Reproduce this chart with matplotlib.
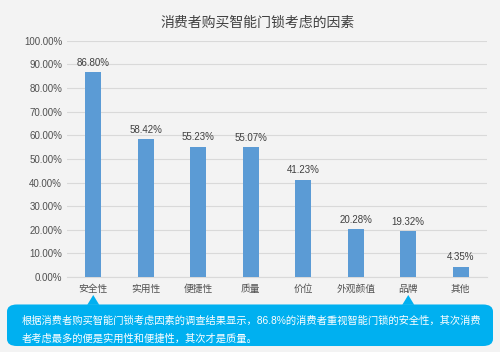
import matplotlib
matplotlib.use("Agg")
import matplotlib.pyplot as plt
from matplotlib.patches import FancyBboxPatch, Polygon
from matplotlib.ticker import FuncFormatter

plt.rcParams['font.family'] = ['Liberation Sans', 'Noto Sans CJK SC', 'DejaVu Sans']

# Data
categories = ["安全性", "实用性", "便捷性", "质量", "价位", "外观颜值", "品牌", "其他"]
values = [86.80, 58.42, 55.23, 55.07, 41.23, 20.28, 19.32, 4.35]
title = "消费者购买智能门锁考虑的因素"
note_lines = ["根据消费者购买智能门锁考虑因素的调查结果显示，86.8%的消费者重视智能门锁的安全性，其次消费",
              "者考虑最多的便是实用性和便捷性，其次才是质量。"]
pointer_cats = ["安全性", "品牌"]

bar_color = "#5b9bd5"
box_color = "#00b0f0"

fig = plt.figure(figsize=(5, 3.52), dpi=100)
fig.patch.set_facecolor("#f3f3f3")
ax = fig.add_axes([0.134, 0.213, 0.84, 0.671])
ax.set_facecolor("none")

x = range(len(categories))
ax.bar(x, values, width=0.31, color=bar_color, zorder=3)
for i, v in zip(x, values):
    ax.text(i, v + 1.8, f"{v:.2f}%", ha="center", va="bottom", fontsize=7, color="#404040")

ax.set_ylim(0, 100)
ax.set_xlim(-0.5, len(categories) - 0.5)
ax.set_yticks(range(0, 101, 10))
ax.yaxis.set_major_formatter(FuncFormatter(lambda v, p: f"{v:.2f}%"))
ax.set_xticks(list(x))
ax.set_xticklabels(categories)
ax.tick_params(axis="both", length=0, labelsize=7, colors="#505050")
ax.tick_params(axis="x", pad=5)
ax.grid(axis="y", color="#d9d9d9", linewidth=0.8, zorder=0)
for s in ["top", "right", "left"]:
    ax.spines[s].set_visible(False)
ax.spines["bottom"].set_color("#d9d9d9")

fig.text(0.516, 0.937, title, ha="center", va="center", fontsize=10, color="#404040")

# callout box
box = FancyBboxPatch((0.014, 0.017), 0.972, 0.118, boxstyle="round,pad=0,rounding_size=0.02",
                     transform=fig.transFigure, facecolor=box_color, edgecolor="none", zorder=5)
fig.patches.append(box)
for c in pointer_cats:
    xd = categories.index(c)
    xf = fig.transFigure.inverted().transform(ax.transData.transform((xd, 0)))[0]
    tri = Polygon([(xf - 0.012, 0.134), (xf + 0.012, 0.134), (xf, 0.162)], closed=True,
                  transform=fig.transFigure, facecolor=box_color, edgecolor="none", zorder=5)
    fig.patches.append(tri)

fig.text(0.044, 0.090, note_lines[0], ha="left", va="center", fontsize=7.4, color="white", zorder=6)
fig.text(0.044, 0.037, note_lines[1], ha="left", va="center", fontsize=7.4, color="white", zorder=6)

fig.savefig("out.png", dpi=100, facecolor=fig.get_facecolor())
